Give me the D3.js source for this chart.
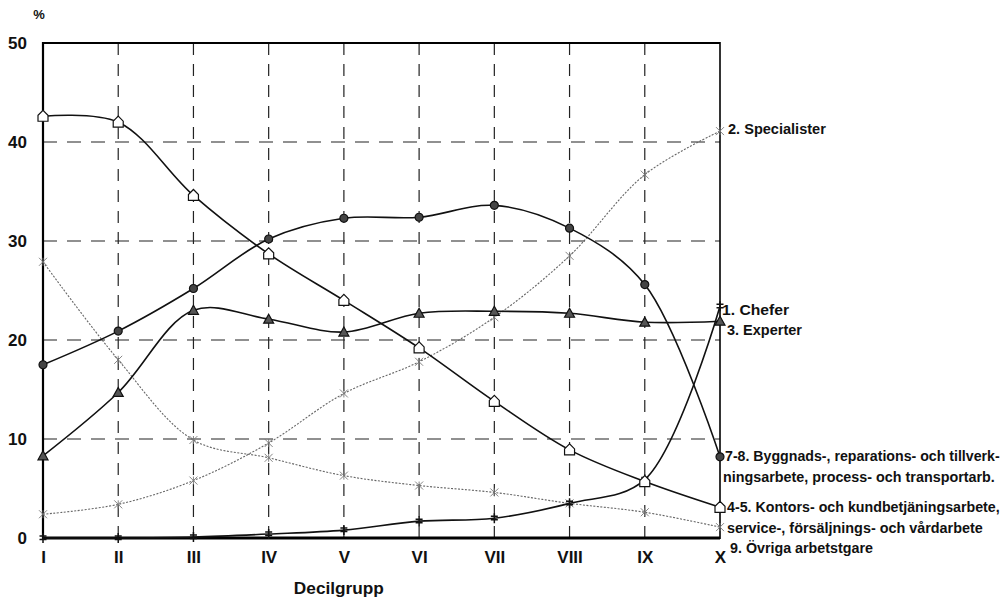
<!DOCTYPE html>
<html>
<head>
<meta charset="utf-8">
<script src="https://cdn.jsdelivr.net/npm/d3@7"></script>
<style>
  html, body { margin: 0; padding: 0; background: #fff; }
  svg { display: block; }
  text { font-family: "Liberation Sans", Arial, sans-serif; fill: #111; }
</style>
</head>
<body>
<svg id="chart" width="1008" height="599"></svg>
<script>
// ---- data ----
const categories = ["I","II","III","IV","V","VI","VII","VIII","IX","X"];
const yTicks = [0, 10, 20, 30, 40, 50];

const chefer      = [0.0, 0.0, 0.1, 0.4, 0.8, 1.7, 2.0, 3.5, 5.9, 23.4];
const specialister= [2.4, 3.4, 5.8, 9.6, 14.6, 17.8, 22.3, 28.5, 36.7, 41.1];
const experter    = [8.3, 14.7, 23.0, 22.1, 20.8, 22.7, 22.9, 22.7, 21.8, 21.9];
const kontors     = [42.6, 42.0, 34.6, 28.7, 24.0, 19.2, 13.8, 8.9, 5.7, 3.1];
const byggnads    = [17.5, 20.9, 25.2, 30.2, 32.3, 32.4, 33.6, 31.3, 25.6, 8.2];
const ovriga      = [27.9, 18.0, 9.9, 8.1, 6.3, 5.3, 4.6, 3.5, 2.6, 1.1];

const labelTexts = [
  ["2. Specialister"],
  ["1. Chefer"],
  ["3. Experter"],
  ["7-8. Byggnads-, reparations- och tillverk-", "ningsarbete, process- och transportarb."],
  ["4-5. Kontors- och kundbetjäningsarbete,", "service-, försäljnings- och vårdarbete"],
  ["9. Övriga arbetstgare"]
];
// layout for the labels (not data): anchor y, x start and fitted widths per line
const labelLayout = [
  { y: 129, x: [728], w: [98] },
  { y: 310, x: [722], w: [67] },
  { y: 330, x: [727], w: [75] },
  { y: 456, x: [725, 723], w: [275, 272] },
  { y: 507, x: [727, 727], w: [273, 256] },
  { y: 548, x: [730], w: [143] }
];

const series = [
  { key: "ovriga", values: ovriga, dotted: true, marker: "x" },
  { key: "specialister", values: specialister, dotted: true, marker: "x" },
  { key: "chefer", values: chefer, dotted: false, marker: "dagger" },
  { key: "experter", values: experter, dotted: false, marker: "triangle" },
  { key: "byggnads", values: byggnads, dotted: false, marker: "circle" },
  { key: "kontors", values: kontors, dotted: false, marker: "house" }
];

// ---- layout ----
const svg = d3.select("#chart");
const L = 43, R = 720, T = 43, B = 538;
const x = d3.scalePoint().domain(categories).range([L, R]);
const y = d3.scaleLinear().domain([0, 50]).range([B, T]);

// grid
const g = svg.append("g");
g.selectAll("line.vg").data(categories.slice(1, -1)).join("line")
  .attr("x1", d => x(d)).attr("x2", d => x(d))
  .attr("y1", T).attr("y2", B)
  .attr("stroke", "#222").attr("stroke-width", 1.2)
  .attr("stroke-dasharray", "12,9");
g.selectAll("line.hg").data(yTicks.slice(1, -1)).join("line")
  .attr("x1", L).attr("x2", R)
  .attr("y1", d => y(d)).attr("y2", d => y(d))
  .attr("stroke", "#222").attr("stroke-width", 1.2)
  .attr("stroke-dasharray", "14,10");

// axes using d3 axis, styled
const yAxis = svg.append("g").attr("transform", `translate(${L},0)`)
  .call(d3.axisLeft(y).tickValues(yTicks).tickSize(0).tickPadding(16));
yAxis.select(".domain").remove();
yAxis.selectAll("text")
  .style("font-size", "17px").style("font-weight", "bold")
  .attr("fill", "#111");

const xAxis = svg.append("g").attr("transform", `translate(0,${B})`)
  .call(d3.axisBottom(x).tickSize(0).tickPadding(13));
xAxis.select(".domain").remove();
xAxis.selectAll("text")
  .style("font-size", "17px").style("font-weight", "bold")
  .attr("fill", "#111");

// frame
svg.append("line").attr("x1", L).attr("x2", R).attr("y1", T).attr("y2", T).attr("stroke", "#000").attr("stroke-width", 2);
svg.append("line").attr("x1", L).attr("x2", L).attr("y1", T - 1).attr("y2", B + 1).attr("stroke", "#000").attr("stroke-width", 2.2);
svg.append("line").attr("x1", R).attr("x2", R).attr("y1", T - 1).attr("y2", B + 1).attr("stroke", "#000").attr("stroke-width", 1.6);
svg.append("line").attr("x1", L).attr("x2", R).attr("y1", B).attr("y2", B).attr("stroke", "#000").attr("stroke-width", 3);

// lines
const line = d3.line()
  .x((d, i) => x(categories[i]))
  .y(d => y(d))
  .curve(d3.curveCatmullRom.alpha(0.5));

series.forEach(s => {
  svg.append("path")
    .datum(s.values)
    .attr("d", line)
    .attr("fill", "none")
    .attr("stroke", s.dotted ? "#666" : "#111")
    .attr("stroke-width", s.dotted ? 1.1 : 1.6)
    .attr("stroke-dasharray", s.dotted ? "2,1.5" : null);
});

// markers
series.forEach(s => {
  const mg = svg.append("g");
  s.values.forEach((v, i) => {
    const cx = x(categories[i]), cy = y(v);
    const m = mg.append("g").attr("transform", `translate(${cx},${cy})`);
    if (s.marker === "x") {
      m.append("path").attr("d", "M-4,-4L4,4M-4,4L4,-4M0,-4L0,4")
        .attr("stroke", "#777").attr("stroke-width", 0.9).attr("fill", "none");
    } else if (s.marker === "dagger") {
      m.append("path").attr("d", "M0,-5L0,5M-3.5,-2L3.5,-2M-3.5,1.5L3.5,1.5")
        .attr("stroke", "#111").attr("stroke-width", 1.5).attr("fill", "none");
    } else if (s.marker === "triangle") {
      m.append("path").attr("d", "M0,-5L5,4L-5,4Z")
        .attr("fill", "#555").attr("stroke", "#111").attr("stroke-width", 1.2);
    } else if (s.marker === "circle") {
      m.append("circle").attr("r", 4)
        .attr("fill", "#444").attr("stroke", "#111").attr("stroke-width", 1.2);
    } else if (s.marker === "house") {
      m.append("path").attr("d", "M-5,5L-5,-1L0,-6L5,-1L5,5Z")
        .attr("fill", "#fff").attr("stroke", "#111").attr("stroke-width", 1.2);
    }
  });
});

// % label
svg.append("text").attr("x", 39).attr("y", 19).attr("text-anchor", "middle")
  .style("font-size", "13px").style("font-weight", "bold").text("%");

// x title
svg.append("text").attr("x", x("V") - 5).attr("y", 594).attr("text-anchor", "middle")
  .style("font-size", "17px").style("font-weight", "bold")
  .attr("textLength", 90).attr("lengthAdjust", "spacingAndGlyphs")
  .text("Decilgrupp");

// right labels: horizontally scaled to the fitted width (condensed look)
labelTexts.forEach((lines, j) => {
  const lay = labelLayout[j];
  lines.forEach((t, k) => {
    const txt = svg.append("text")
      .style("font-size", "15px").style("font-weight", "bold")
      .text(t);
    const natural = txt.node().getComputedTextLength();
    const sx = lay.w[k] / natural;
    txt.attr("transform", `translate(${lay.x[k]},${lay.y + 5 + k * 21}) scale(${sx},1)`);
  });
});
</script>
</body>
</html>
